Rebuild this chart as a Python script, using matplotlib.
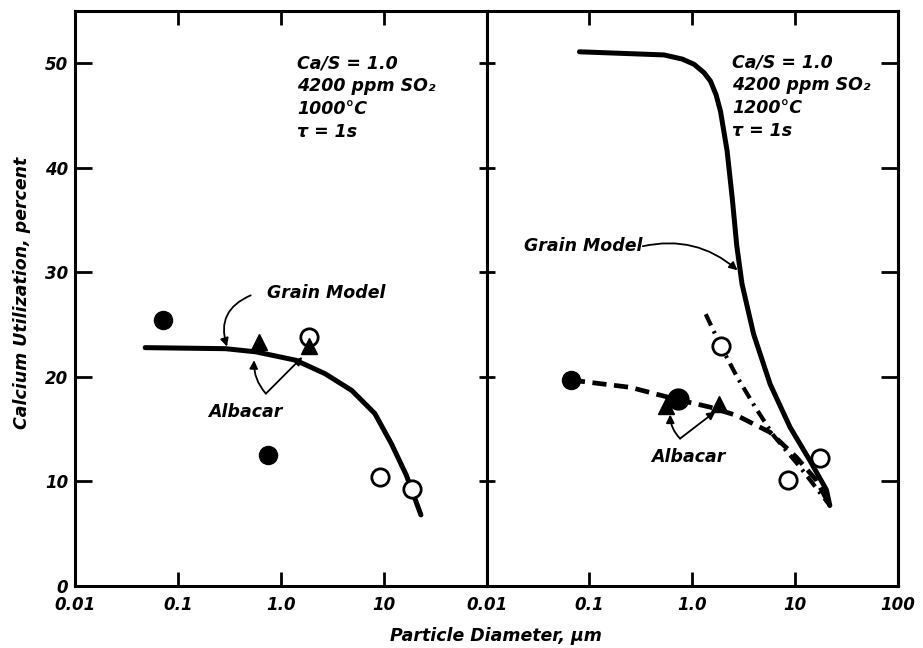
import numpy as np
import matplotlib
matplotlib.use('Agg')
import matplotlib.pyplot as plt

plt.rcParams['font.family'] = ['DejaVu Sans']
plt.rcParams['font.style'] = 'italic'
plt.rcParams['font.weight'] = 'bold'

# left panel, 1000 C
grain_1000_x = [0.048, 0.29, 0.57, 1.39, 2.7, 4.9, 8.2, 11.9, 16.6, 23]
grain_1000_y = [22.8, 22.7, 22.4, 21.6, 20.3, 18.7, 16.5, 13.6, 10.6, 6.8]
fill_circ_1000_x = [0.072, 0.75]
fill_circ_1000_y = [25.4, 12.5]
tri_1000_x = [0.61, 1.9]
tri_1000_y = [23.3, 23.0]
open_circ_1000_x = [1.9, 9.2, 18.8]
open_circ_1000_y = [23.8, 10.4, 9.3]

# right panel, 1200 C
grain_1200_x = [0.08, 0.53, 0.8, 1.04, 1.3, 1.5, 1.7, 1.88, 2.18, 2.45, 2.7, 3.04, 3.94,
                5.71, 8.9, 13.9, 20.1, 21.7]
grain_1200_y = [51.1, 50.8, 50.4, 49.9, 49.1, 48.3, 47.0, 45.4, 41.6, 37.0, 32.6, 28.9, 24.1,
                19.3, 15.2, 12.0, 9.2, 7.7]
dash_1200_x = [0.066, 0.25, 0.67, 1.5, 2.72, 5.7, 10.3, 16.1, 21.7]
dash_1200_y = [19.7, 19.0, 17.9, 17.1, 16.3, 14.7, 12.3, 10.1, 7.7]
dashdot_1200_x = [1.35, 1.88, 2.72, 4.09, 6.15, 11.1, 21.7]
dashdot_1200_y = [26.0, 23.0, 20.0, 17.1, 14.4, 11.4, 7.7]
fill_circ_1200_x = [0.066, 0.72]
fill_circ_1200_y = [19.7, 17.9]
tri_1200_x = [0.56, 1.81]
tri_1200_y = [17.2, 17.4]
open_circ_1200_x = [1.88, 8.6, 17.4]
open_circ_1200_y = [23.0, 10.1, 12.2]

left_ticks = [0.01, 0.1, 1, 10]
left_ticklabels = ['0.01', '0.1', '1.0', '10']
right_ticks = [0.01, 0.1, 1, 10, 100]
right_ticklabels = ['0.01', '0.1', '1.0', '10', '100']
y_ticks = [0, 10, 20, 30, 40, 50]

cond_1000 = ['Ca/S = 1.0', '4200 ppm SO\u2082', '1000\u00b0C', '\u03c4 = 1s']
cond_1200 = ['Ca/S = 1.0', '4200 ppm SO\u2082', '1200\u00b0C', '\u03c4 = 1s']

fig, (ax1, ax2) = plt.subplots(1, 2, sharey=True, figsize=(9.23, 6.48), dpi=100)
fig.subplots_adjust(left=0.0813, right=0.973, bottom=0.0957, top=0.983, wspace=0)

fs = 12
for ax in (ax1, ax2):
    ax.set_xscale('log')
    ax.set_xlim(0.01, 100)
    ax.set_ylim(0, 55)
    for s in ax.spines.values():
        s.set_linewidth(2.2)
    ax.minorticks_off()
    ax.tick_params(axis='x', which='major', direction='in', top=True, length=10, width=2,
                   labelsize=fs, pad=7)

ax1.set_xticks(left_ticks)
ax1.set_xticklabels(left_ticklabels)
ax2.set_xticks(right_ticks)
ax2.set_xticklabels(right_ticklabels)

ax1.set_yticks(y_ticks)
ax1.tick_params(axis='y', direction='in', left=True, right=False, length=12, width=2,
                labelsize=fs, pad=5)
ax2.tick_params(axis='y', direction='inout', left=True, right=False, length=12, width=2,
                labelleft=False)
sec = ax2.secondary_yaxis('right')
sec.set_yticks(y_ticks[1:])
sec.tick_params(direction='in', length=12, width=2, labelright=False)
sec.spines['right'].set_linewidth(2.2)

# left panel
ax1.plot(grain_1000_x, grain_1000_y, color='black', lw=3.6, solid_capstyle='round')
ax1.plot(fill_circ_1000_x, fill_circ_1000_y, 'o', color='black', ms=13)
ax1.plot(open_circ_1000_x, open_circ_1000_y, 'o', mfc='white', mec='black', mew=2, ms=12.5)
ax1.plot(tri_1000_x, tri_1000_y, '^', color='black', ms=12)

# right panel
ax2.plot(grain_1200_x, grain_1200_y, color='black', lw=3.6, solid_capstyle='round')
ax2.plot(dash_1200_x, dash_1200_y, color='black', lw=3.4, dashes=(3, 1.6))
ax2.plot(dashdot_1200_x, dashdot_1200_y, color='black', lw=3.0, dashes=(3.0, 1.5, 0.6, 1.5))
ax2.plot(fill_circ_1200_x[:1], fill_circ_1200_y[:1], 'o', color='black', ms=13)
ax2.plot(fill_circ_1200_x[1:], fill_circ_1200_y[1:], 'o', color='black', ms=15)
ax2.plot(tri_1200_x, tri_1200_y, '^', color='black', ms=12)
ax2.plot(open_circ_1200_x, open_circ_1200_y, 'o', mfc='white', mec='black', mew=2, ms=12.5)

# condition text
for i, line in enumerate(cond_1000):
    ax1.text(1.45, 50.0 - 2.2 * i, line, fontsize=12.5, ha='left', va='center')
for i, line in enumerate(cond_1200):
    ax2.text(2.45, 50.1 - 2.2 * i, line, fontsize=12.5, ha='left', va='center')

arr = dict(arrowstyle='-|>', color='black', lw=1.3, mutation_scale=12, shrinkA=0, shrinkB=0)

# labels and arrows, left
ax1.text(0.73, 28.0, 'Grain Model', fontsize=12.5, ha='left', va='center')
ax1.annotate('', xy=(0.30, 22.9), xytext=(0.51, 27.8),
             arrowprops=dict(arr, connectionstyle='arc3,rad=0.45'))
ax1.text(0.45, 16.6, 'Albacar', fontsize=12.5, ha='center', va='center')
ax1.annotate('', xy=(0.55, 21.6), xytext=(0.716, 18.4),
             arrowprops=dict(arr, connectionstyle='arc3,rad=-0.2'))
ax1.annotate('', xy=(1.62, 21.9), xytext=(0.716, 18.4), arrowprops=dict(arr))

# labels and arrows, right
ax2.text(0.023, 32.5, 'Grain Model', fontsize=12.5, ha='left', va='center')
ax2.annotate('', xy=(2.75, 30.2), xytext=(0.33, 32.5),
             arrowprops=dict(arr, connectionstyle='arc3,rad=-0.25'))
ax2.text(0.91, 12.3, 'Albacar', fontsize=12.5, ha='center', va='center')
ax2.annotate('', xy=(0.61, 16.4), xytext=(0.76, 14.1),
             arrowprops=dict(arr, connectionstyle='arc3,rad=-0.2'))
ax2.annotate('', xy=(1.68, 16.7), xytext=(0.76, 14.1), arrowprops=dict(arr))

fig.text(0.537, 0.018, 'Particle Diameter, \u00b5m', fontsize=12.5, ha='center', va='center')
fig.text(0.024, 0.548, 'Calcium Utilization, percent', fontsize=12.5, rotation=90,
         ha='center', va='center')

fig.savefig('out.png', dpi=100)
